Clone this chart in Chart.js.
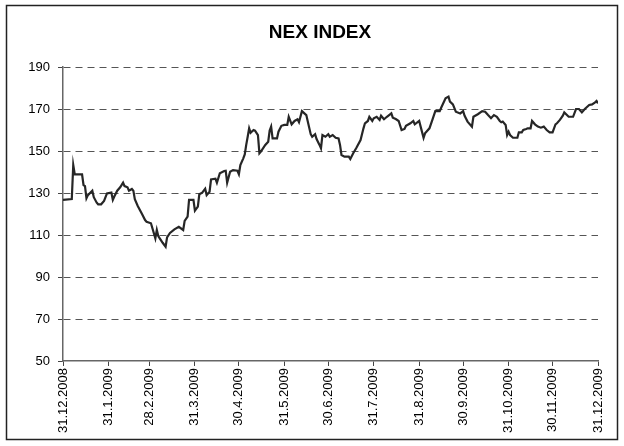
<!DOCTYPE html>
<html><head><meta charset="utf-8">
<script src="https://cdn.jsdelivr.net/npm/chart.js@4.4.0/dist/chart.umd.min.js"></script>
<style>html,body{margin:0;padding:0;background:#fff;}</style>
</head><body>
<canvas id="c" width="624" height="446"></canvas>
<script>
const chartTitle = 'NEX INDEX';
const tickDays = [0,31,59,90,120,151,181,212,243,273,304,334,365];
const tickLabels = ['31.12.2008','31.1.2009','28.2.2009','31.3.2009','30.4.2009','31.5.2009','30.6.2009','31.7.2009','31.8.2009','30.9.2009','31.10.2009','30.11.2009','31.12.2009'];
const yTicks = [50,70,90,110,130,150,170,190];
const days = [0,6,7,8,13,14,15,16,17,20,21,23,24,26,28,30,33,34,35,37,39,41,42,44,45,47,48,49,51,54,56,57,60,61,63,64,65,66,68,70,71,73,76,79,82,83,85,86,89,90,92,93,95,96,97,98,100,101,104,105,107,110,111,112,114,116,119,120,121,123,124,125,126,127,128,130,131,133,134,135,138,140,141,142,143,146,147,149,151,153,154,156,158,160,161,163,166,167,169,170,172,173,175,176,177,179,181,182,184,186,188,189,190,192,195,196,198,200,203,205,206,208,209,211,212,214,216,217,219,221,224,225,227,229,231,233,234,237,239,240,243,244,246,247,250,252,254,257,258,261,263,264,266,268,271,273,274,276,279,280,283,286,288,290,292,294,296,298,299,300,302,303,304,305,307,310,311,313,314,316,317,319,320,322,324,326,328,330,332,334,336,337,339,341,342,345,348,350,352,354,356,359,361,363,364,365];
const values = [126.7,127.1,143.3,139.0,138.9,133.8,133.3,127.5,129.0,131.1,128.0,125.4,124.6,124.6,126.2,129.8,130.2,126.7,128.3,131.1,132.7,134.9,133.3,132.7,131.1,131.9,131.1,127.0,123.8,119.9,117.1,116.3,115.6,113.2,108.4,112.4,109.5,108.4,106.3,104.4,108.9,111.0,112.7,113.9,112.4,116.7,118.7,126.7,126.7,121.6,123.5,129.4,130.2,131.1,132.0,129.0,130.6,136.5,136.8,134.9,139.4,140.5,140.6,134.9,140.1,140.9,140.6,138.9,143.3,146.5,148.4,152.9,156.8,160.8,158.7,160.0,159.7,157.6,148.9,149.7,152.9,154.4,159.7,161.6,156.0,156.0,159.2,162.0,162.4,162.4,166.3,162.7,164.3,165.1,163.7,169.0,167.1,164.0,158.0,156.8,158.0,155.7,152.9,151.3,157.6,156.8,158.0,156.8,157.6,156.3,156.0,152.9,148.1,147.3,147.3,146.2,148.9,151.3,155.2,160.8,163.2,164.3,166.3,164.3,165.6,166.3,164.8,166.8,165.1,166.3,167.9,165.9,165.2,164.3,160.0,160.5,162.0,163.2,164.3,162.7,164.3,161.6,156.3,158.4,160.8,164.8,169.0,169.0,170.6,175.1,175.9,173.5,172.2,168.7,167.9,169.0,166.8,164.0,161.6,166.3,167.5,169.0,168.7,167.1,165.6,167.1,166.3,164.3,163.7,164.0,162.4,157.6,159.2,157.6,156.3,156.3,158.9,158.9,160.0,160.5,160.8,160.8,164.3,162.7,161.6,161.1,161.6,160.0,158.9,158.9,162.7,163.2,164.8,166.8,168.4,166.3,166.3,170.0,170.0,168.4,170.0,171.9,172.2,173.2,173.8,172.7];

const points = days.map((d, i) => ({x: d, y: values[i]}));

const frame = {
  id: 'frame',
  beforeDraw(chart) {
    const ctx = chart.ctx;
    ctx.save();
    ctx.fillStyle = '#fff';
    ctx.fillRect(0, 0, chart.width, chart.height);
    ctx.strokeStyle = '#222';
    ctx.lineWidth = 1.5;
    ctx.strokeRect(6.5, 5.5, 611, 434);
    ctx.fillStyle = '#000';
    ctx.font = 'bold 19px "Liberation Sans"';
    ctx.textAlign = 'center';
    ctx.textBaseline = 'middle';
    ctx.fillText(chartTitle, 320, 33);
    ctx.restore();
  }
};

new Chart(document.getElementById('c'), {
  type: 'line',
  data: {
    datasets: [{
      data: points,
      borderColor: '#262626',
      borderWidth: 2.2,
      pointRadius: 0,
      tension: 0,
      fill: false
    }]
  },
  options: {
    responsive: false,
    devicePixelRatio: 1,
    animation: false,
    layout: {padding: {left: 0, right: 26, top: 67, bottom: 0}},
    plugins: {
      legend: {display: false},
      tooltip: {enabled: false},
      title: {display: false}
    },
    scales: {
      x: {
        type: 'linear',
        min: 0,
        max: 365,
        afterBuildTicks: s => { s.ticks = tickDays.map(v => ({value: v})); },
        afterFit: s => { s.height = 85; },
        ticks: {
          autoSkip: false,
          minRotation: 90,
          maxRotation: 90,
          padding: 2,
          color: '#000',
          font: {family: 'Liberation Sans', size: 13},
          callback: v => tickLabels[tickDays.indexOf(v)]
        },
        grid: {drawOnChartArea: false, drawTicks: true, tickLength: 5, tickColor: '#444', tickWidth: 1},
        border: {display: true, color: '#666', width: 1.5}
      },
      y: {
        min: 50,
        max: 190,
        afterBuildTicks: s => { s.ticks = yTicks.map(v => ({value: v})); },
        afterFit: s => { s.width = 63; },
        ticks: {
          padding: 8,
          color: '#000',
          font: {family: 'Liberation Sans', size: 13}
        },
        grid: {
          drawTicks: true,
          tickLength: 5,
          tickColor: '#444',
          tickWidth: 1,
          lineWidth: 1,
          color: c => (c.tick && c.tick.value === 50) ? 'rgba(0,0,0,0)' : '#555'
        },
        border: {display: true, color: '#666', width: 1.5, dash: [7, 5]}
      }
    }
  },
  plugins: [frame]
});
</script>
</body></html>
